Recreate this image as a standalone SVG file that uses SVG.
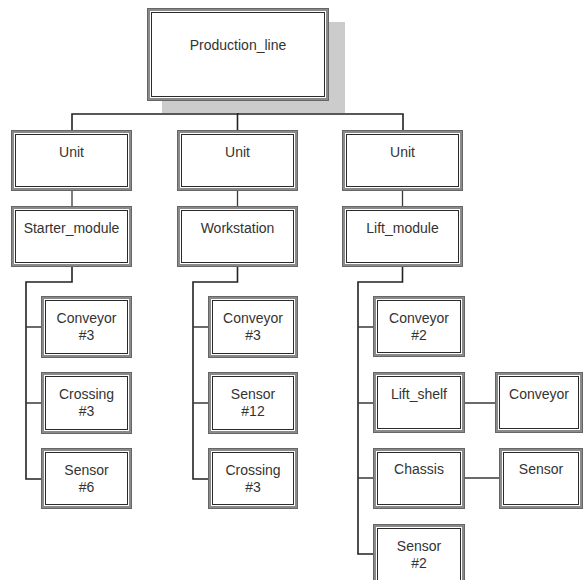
<svg xmlns="http://www.w3.org/2000/svg" width="583" height="580" viewBox="0 0 583 580">
<style>
.bg{fill:#fff}
.ob{fill:#fff;stroke:#8a8a8a;stroke-width:3}
.oe{fill:none;stroke:#666;stroke-width:1}
.ib{fill:none;stroke:#2a2a2a;stroke-width:1}
.t{font-family:"Liberation Sans",Arial,sans-serif;font-size:14px;fill:#333;text-anchor:middle}
.c{fill:none;stroke:#222;stroke-width:1.6}
.br{fill:none;stroke:#3a3a3a;stroke-width:1.3}
</style>
<rect class="bg" x="0" y="0" width="583" height="580"/>
<g id="connectors">
  <path class="c" d="M238,101 V114 M72,130 V114 H403 V130 M237.5,114 V130"/>
  <path class="br" d="M72,191 V206 M237.5,191 V206 M402.5,191 V206"/>
  <path class="c" d="M72,267 V282 H26 V479 H41"/>
  <path class="br" d="M26,327 H41 M26,403 H41"/>
  <path class="c" d="M237.5,267 V282 H193 V479 H208"/>
  <path class="br" d="M193,327 H208 M193,403 H208"/>
  <path class="c" d="M402.5,267 V282 H358 V554 H373"/>
  <path class="br" d="M358,327 H373 M358,403 H373 M358,478 H373"/>
  <path class="br" d="M465,403 H495 M465,478 H499"/>
</g>
<g id="production_line">
  <rect x="162" y="22" width="183" height="91" fill="#cccccc"/>
  <rect class="ob" x="148.5" y="9.5" width="179" height="90"/>
  <rect class="oe" x="147.5" y="8.5" width="181" height="92"/>
  <rect class="ib" x="151.5" y="12.5" width="173" height="84"/>
  <text class="t" x="238" y="50">Production_line</text>
</g>
<g id="unit1">
  <rect class="ob" x="12.5" y="131.5" width="118" height="58"/>
  <rect class="oe" x="11.5" y="130.5" width="120" height="60"/>
  <rect class="ib" x="15.5" y="134.5" width="112" height="52"/>
  <text class="t" x="71.5" y="157">Unit</text>
</g>
<g id="unit2">
  <rect class="ob" x="178.5" y="131.5" width="118" height="58"/>
  <rect class="oe" x="177.5" y="130.5" width="120" height="60"/>
  <rect class="ib" x="181.5" y="134.5" width="112" height="52"/>
  <text class="t" x="237.5" y="157">Unit</text>
</g>
<g id="unit3">
  <rect class="ob" x="343.5" y="131.5" width="118" height="58"/>
  <rect class="oe" x="342.5" y="130.5" width="120" height="60"/>
  <rect class="ib" x="346.5" y="134.5" width="112" height="52"/>
  <text class="t" x="402.5" y="157">Unit</text>
</g>
<g id="starter_module">
  <rect class="ob" x="12.5" y="207.5" width="118" height="58"/>
  <rect class="oe" x="11.5" y="206.5" width="120" height="60"/>
  <rect class="ib" x="15.5" y="210.5" width="112" height="52"/>
  <text class="t" x="71.5" y="233">Starter_module</text>
</g>
<g id="workstation">
  <rect class="ob" x="178.5" y="207.5" width="118" height="58"/>
  <rect class="oe" x="177.5" y="206.5" width="120" height="60"/>
  <rect class="ib" x="181.5" y="210.5" width="112" height="52"/>
  <text class="t" x="237.5" y="233">Workstation</text>
</g>
<g id="lift_module">
  <rect class="ob" x="343.5" y="207.5" width="118" height="58"/>
  <rect class="oe" x="342.5" y="206.5" width="120" height="60"/>
  <rect class="ib" x="346.5" y="210.5" width="112" height="52"/>
  <text class="t" x="402.5" y="233">Lift_module</text>
</g>
<g id="conveyor3_a">
  <rect class="ob" x="42.5" y="297.5" width="88" height="59"/>
  <rect class="oe" x="41.5" y="296.5" width="90" height="61"/>
  <rect class="ib" x="45.5" y="300.5" width="82" height="53"/>
  <text class="t" x="86.5" y="323">Conveyor</text>
  <text class="t" x="86.5" y="340">#3</text>
</g>
<g id="crossing3_a">
  <rect class="ob" x="42.5" y="373.5" width="88" height="59"/>
  <rect class="oe" x="41.5" y="372.5" width="90" height="61"/>
  <rect class="ib" x="45.5" y="376.5" width="82" height="53"/>
  <text class="t" x="86.5" y="399">Crossing</text>
  <text class="t" x="86.5" y="416">#3</text>
</g>
<g id="sensor6">
  <rect class="ob" x="42.5" y="449.5" width="88" height="58"/>
  <rect class="oe" x="41.5" y="448.5" width="90" height="60"/>
  <rect class="ib" x="45.5" y="452.5" width="82" height="52"/>
  <text class="t" x="86.5" y="475">Sensor</text>
  <text class="t" x="86.5" y="492">#6</text>
</g>
<g id="conveyor3_b">
  <rect class="ob" x="209.5" y="297.5" width="87" height="59"/>
  <rect class="oe" x="208.5" y="296.5" width="89" height="61"/>
  <rect class="ib" x="212.5" y="300.5" width="81" height="53"/>
  <text class="t" x="253" y="323">Conveyor</text>
  <text class="t" x="253" y="340">#3</text>
</g>
<g id="sensor12">
  <rect class="ob" x="209.5" y="373.5" width="87" height="59"/>
  <rect class="oe" x="208.5" y="372.5" width="89" height="61"/>
  <rect class="ib" x="212.5" y="376.5" width="81" height="53"/>
  <text class="t" x="253" y="399">Sensor</text>
  <text class="t" x="253" y="416">#12</text>
</g>
<g id="crossing3_b">
  <rect class="ob" x="209.5" y="449.5" width="87" height="58"/>
  <rect class="oe" x="208.5" y="448.5" width="89" height="60"/>
  <rect class="ib" x="212.5" y="452.5" width="81" height="52"/>
  <text class="t" x="253" y="475">Crossing</text>
  <text class="t" x="253" y="492">#3</text>
</g>
<g id="conveyor2">
  <rect class="ob" x="374.5" y="297.5" width="89" height="58"/>
  <rect class="oe" x="373.5" y="296.5" width="91" height="60"/>
  <rect class="ib" x="377.5" y="300.5" width="83" height="52"/>
  <text class="t" x="419" y="323">Conveyor</text>
  <text class="t" x="419" y="340">#2</text>
</g>
<g id="lift_shelf">
  <rect class="ob" x="374.5" y="373.5" width="89" height="58"/>
  <rect class="oe" x="373.5" y="372.5" width="91" height="60"/>
  <rect class="ib" x="377.5" y="376.5" width="83" height="52"/>
  <text class="t" x="419" y="399">Lift_shelf</text>
</g>
<g id="chassis">
  <rect class="ob" x="374.5" y="449.5" width="89" height="58"/>
  <rect class="oe" x="373.5" y="448.5" width="91" height="60"/>
  <rect class="ib" x="377.5" y="452.5" width="83" height="52"/>
  <text class="t" x="419" y="474">Chassis</text>
</g>
<g id="sensor2">
  <rect class="ob" x="374.5" y="525.5" width="89" height="58"/>
  <rect class="oe" x="373.5" y="524.5" width="91" height="60"/>
  <rect class="ib" x="377.5" y="528.5" width="83" height="52"/>
  <text class="t" x="419" y="551">Sensor</text>
  <text class="t" x="419" y="568">#2</text>
</g>
<g id="conveyor">
  <rect class="ob" x="496.5" y="373.5" width="85" height="58"/>
  <rect class="oe" x="495.5" y="372.5" width="87" height="60"/>
  <rect class="ib" x="499.5" y="376.5" width="79" height="52"/>
  <text class="t" x="539" y="399">Conveyor</text>
</g>
<g id="sensor">
  <rect class="ob" x="500.5" y="449.5" width="81" height="58"/>
  <rect class="oe" x="499.5" y="448.5" width="83" height="60"/>
  <rect class="ib" x="503.5" y="452.5" width="75" height="52"/>
  <text class="t" x="541" y="474">Sensor</text>
</g>
</svg>
